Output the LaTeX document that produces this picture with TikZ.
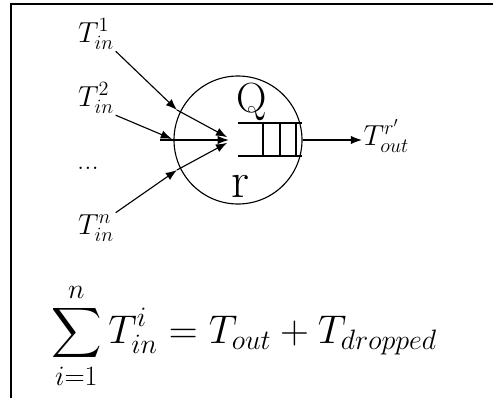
\documentclass[tikz,border=0pt]{standalone}
\usepackage{fix-cm}
\usepackage{amsmath}
\usetikzlibrary{arrows.meta}

\begin{document}
\begin{tikzpicture}[
    >={Latex[length=8pt,width=6pt]},
    lbl/.style={font=\fontsize{20.6}{24}\selectfont, inner sep=1pt},
    link/.style={->, line width=0.8pt},
]
    \useasboundingbox (0,0) rectangle (12.325,9.95);
    \draw[line width=1.2pt] (0.275,0) -- (0.275,9.85) -- (12.325,9.85);

    % router with its queue
    \node[circle, draw, line width=0.8pt, minimum size=3.2cm, inner sep=0] (rt) at (5.95,6.45) {};
    \draw[line width=0.8pt] (5.95,6.875) -- (7.55,6.875);
    \draw[line width=0.8pt] (5.95,6.05) -- (7.55,6.05);
    \foreach \x in {6.575,7.0,7.4}
        \draw[line width=0.8pt] (\x,6.875) -- (\x,6.05);
    \node[font=\fontsize{30}{34}\selectfont, inner sep=0] (qlbl) at (6.3,7.4) {Q};
    \node[font=\fontsize{36}{40}\selectfont, inner sep=0] (rlbl) at (6.0,5.3) {r};

    % incoming flows
    \node[lbl] (t1) at (2.4,9.1) {$T_{in}^1$};
    \node[lbl] (t2) at (2.4,7.5) {$T_{in}^2$};
    \node[lbl] (dots) at (2.2,5.75) {...};
    \node[lbl] (tn) at (2.4,4.25) {$T_{in}^n$};

    \coordinate (c1) at (5.68,6.52);
    \coordinate (c) at (5.72,6.45);
    \coordinate (cn) at (5.68,6.38);
    \coordinate (p1) at (4.425,7.2);
    \coordinate (p2) at (4.3,6.475);
    \coordinate (h) at (4.0,6.45);
    \coordinate (pn) at (4.425,5.7);

    \draw[link] (t1.south east) -- (p1);
    \draw[link] (p1) -- (c1);
    \draw[link] (t2.south east) -- (p2);
    \draw[link] (h) -- (c);
    \draw[link] (tn.north east) -- (pn);
    \draw[link] (pn) -- (cn);

    % outgoing flow
    \node[lbl, anchor=west] (tout) at (9.05,6.55) {$T_{out}^{r'}$};
    \draw[link] (rt.east) -- (tout.west |- rt.east);

    % conservation
    \node[font=\fontsize{28.5}{33}\selectfont] (eq) at (6.1,1.55)
        {$\displaystyle\sum_{i=1}^{n} T_{in}^{i} = T_{out} + T_{dropped}$};
\end{tikzpicture}
\end{document}
